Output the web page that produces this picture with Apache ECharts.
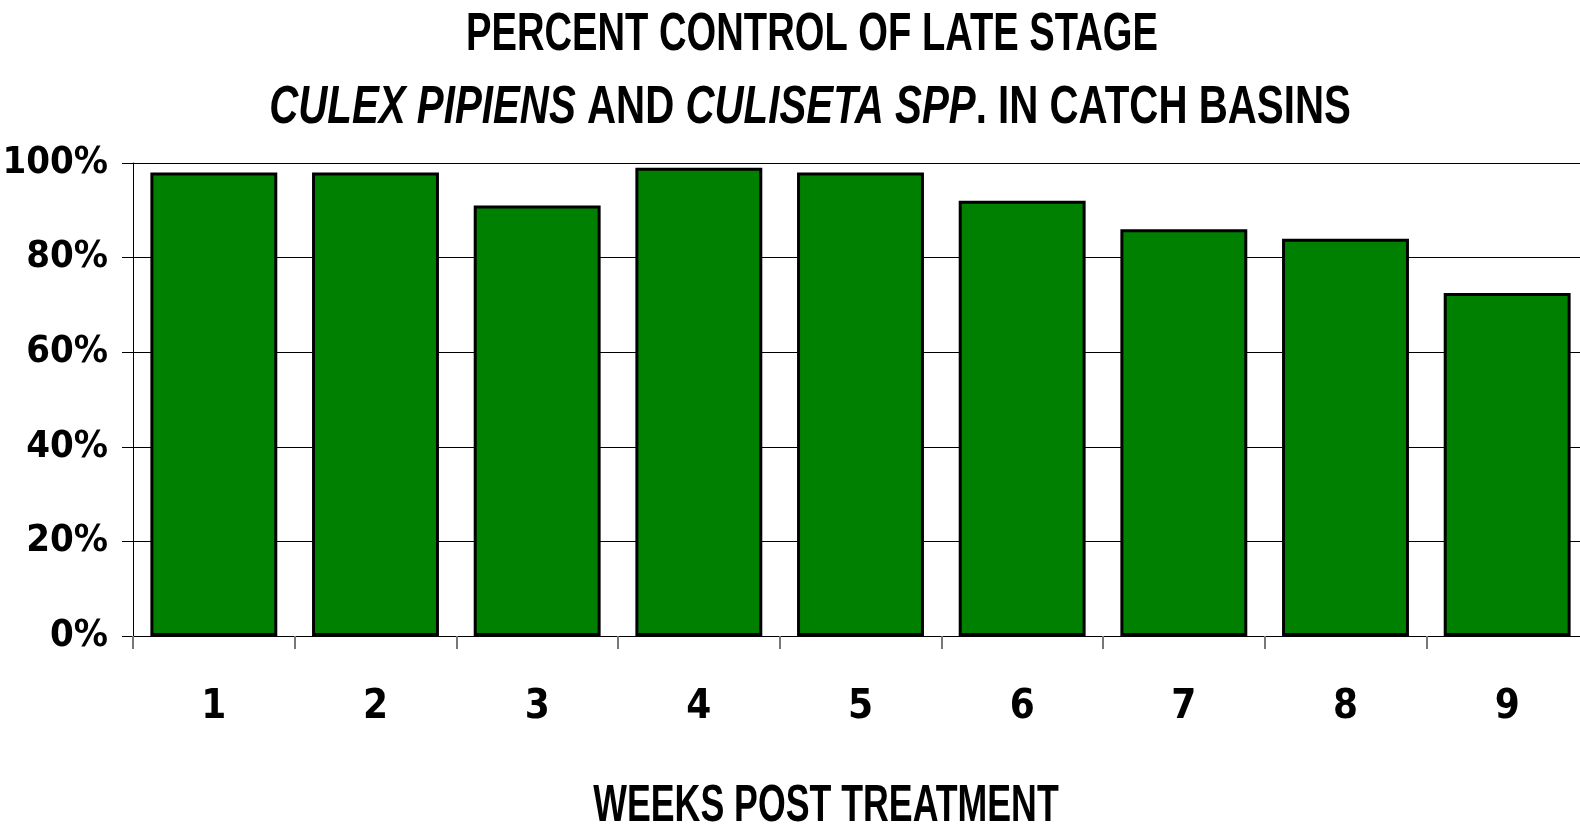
<!DOCTYPE html>
<html>
<head>
<meta charset="utf-8">
<script src="https://cdn.jsdelivr.net/npm/echarts@6/dist/echarts.min.js"></script>
<style>
  html, body { margin: 0; padding: 0; background: #fff; }
  #main { width: 1580px; height: 824px; }
</style>
</head>
<body>
<div id="main"></div>
<script>
// weeks after treatment and percent control
const weeks = ['1', '2', '3', '4', '5', '6', '7', '8', '9'];
const percentControl = [98, 98, 91, 99, 98, 92, 86, 84, 72.5];
const yTicks = { min: 0, max: 100, step: 20 };

const axisFont = "'DejaVu Sans Condensed', 'Liberation Sans', sans-serif";
const titleFont = "'Liberation Sans', Arial, sans-serif";

// titles: Arial-like bold squeezed horizontally to look like Arial Narrow
function narrowText(text, cx, cy, size, sx, rich) {
    let style = {
        text: text,
        fontFamily: titleFont, fontWeight: 'bold', fontSize: size,
        fill: '#000', align: 'center', verticalAlign: 'middle'
    };
    if (rich) style.rich = rich;
    return { type: 'text', x: cx, y: cy, scaleX: sx, style: style };
}

const subRich = {
    i: { fontFamily: titleFont, fontWeight: 'bold', fontStyle: 'italic', fontSize: 53, fill: '#000' },
    n: { fontFamily: titleFont, fontWeight: 'bold', fontSize: 53, fill: '#000' }
};

let chart = echarts.init(document.getElementById('main'));

chart.setOption({
    backgroundColor: '#fff',
    animation: false,
    graphic: [
        narrowText('PERCENT CONTROL OF LATE STAGE', 812, 35, 53, 0.72),
        narrowText('{i|CULEX PIPIENS}{n| AND }{i|CULISETA SPP}{n|. IN CATCH BASINS}', 810, 108, 53, 0.76, subRich),
        narrowText('WEEKS POST TREATMENT', 826, 807, 51, 0.70)
    ],
    grid: { left: 133, top: 163, width: 1455, height: 473, containLabel: false, outerBoundsMode: 'none' },
    xAxis: {
        type: 'category',
        data: weeks,
        axisLine: { show: true, lineStyle: { color: '#000', width: 1 } },
        axisTick: { show: true, length: 13, lineStyle: { color: '#777', width: 2 } },
        axisLabel: {
            margin: 52,
            fontFamily: axisFont, fontWeight: 'bold', fontSize: 40, color: '#000'
        },
        splitLine: { show: false }
    },
    yAxis: {
        type: 'value',
        min: yTicks.min, max: yTicks.max, interval: yTicks.step,
        axisLine: { show: true, lineStyle: { color: '#000', width: 1 } },
        axisTick: { show: true, length: 11, lineStyle: { color: '#000', width: 1 } },
        axisLabel: {
            formatter: '{value}%',
            margin: 25,
            fontFamily: axisFont, fontWeight: 'bold', fontSize: 38, color: '#000'
        },
        splitLine: { show: true, lineStyle: { color: '#000', width: 1 } }
    },
    series: [{
        type: 'bar',
        data: percentControl,
        barCategoryGap: '21.5%',
        itemStyle: { color: '#008000', borderColor: '#000', borderWidth: 3 }
    }]
});
</script>
</body>
</html>
